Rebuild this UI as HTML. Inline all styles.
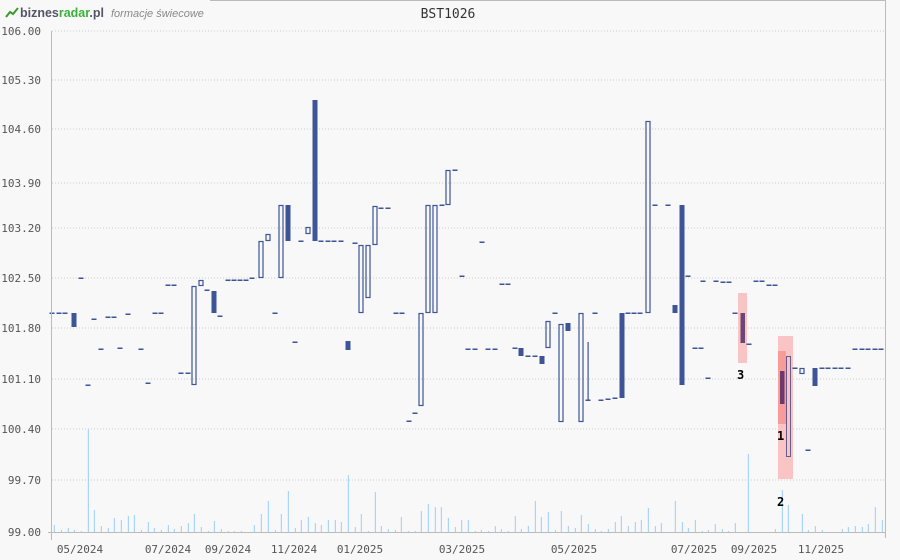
<!DOCTYPE html>
<html><head><meta charset="utf-8"><style>
html,body{margin:0;padding:0;background:#f8f8f8;}
svg{display:block;font-family:"DejaVu Sans Mono","Liberation Mono",monospace;}
</style></head><body>
<svg id="c" width="900" height="560" xmlns="http://www.w3.org/2000/svg">
<rect width="900" height="560" fill="#f8f8f8"/>
<line x1="210" y1="0.5" x2="886" y2="0.5" stroke="#bbb"/>
<line x1="885.5" y1="0" x2="885.5" y2="538" stroke="#bbb"/>
<g stroke="#ccc" stroke-dasharray="1,2">
<line x1="52" y1="31" x2="885" y2="31"/><line x1="52" y1="80" x2="885" y2="80"/>
<line x1="52" y1="129" x2="885" y2="129"/><line x1="52" y1="183" x2="885" y2="183"/>
<line x1="52" y1="228" x2="885" y2="228"/><line x1="52" y1="278" x2="885" y2="278"/>
<line x1="52" y1="328" x2="885" y2="328"/><line x1="52" y1="379" x2="885" y2="379"/>
<line x1="52" y1="429" x2="885" y2="429"/><line x1="52" y1="480" x2="885" y2="480"/>
</g>
<g id="vol" fill="#99ccff"></g>
<g>
<rect x="738" y="293" width="9" height="70" fill="#f9c4c4"/>
<rect x="778" y="336" width="15" height="143" fill="#f9c4c4"/>
<rect x="778" y="351" width="8" height="73" fill="#f79b9b"/>
</g>
<g id="cd"></g>
<rect x="780" y="371" width="4.5" height="33" fill="#6b3a6a"/>
<rect x="740.5" y="313" width="4.5" height="30" fill="#6b4575"/>
<rect x="786.5" y="356.5" width="4" height="100" fill="none" stroke="#6a5a8a"/>
<g font-family="'DejaVu Sans Mono',monospace" font-size="12" font-weight="bold" fill="#000">
<text x="737" y="379">3</text><text x="777" y="440">1</text><text x="777" y="506">2</text>
</g>
<line x1="51.5" y1="31" x2="51.5" y2="540" stroke="#bbb"/>
<line x1="48" y1="532.5" x2="885" y2="532.5" stroke="#bbb"/>
<g font-size="11" fill="#555" text-anchor="end">
<text x="41" y="35">106.00</text><text x="41" y="84">105.30</text><text x="41" y="133">104.60</text>
<text x="41" y="187">103.90</text><text x="41" y="232">103.20</text><text x="41" y="282">102.50</text>
<text x="41" y="332">101.80</text><text x="41" y="383">101.10</text><text x="41" y="433">100.40</text>
<text x="41" y="484">99.70</text><text x="41" y="536">99.00</text>
</g>
<g font-size="11" fill="#555" text-anchor="middle">
<text x="80" y="553">05/2024</text><text x="168" y="553">07/2024</text><text x="228" y="553">09/2024</text>
<text x="294" y="553">11/2024</text><text x="360" y="553">01/2025</text><text x="462" y="553">03/2025</text>
<text x="574" y="553">05/2025</text><text x="694" y="553">07/2025</text><text x="754" y="553">09/2025</text>
<text x="821" y="553">11/2025</text>
</g>
<text x="448" y="18" font-size="13" fill="#333" text-anchor="middle">BST1026</text>
<g>
<path d="M6 17 L10 12 L13 14 L18 8" stroke="#3a9a2a" stroke-width="2" fill="none"/>
<text x="20" y="17" font-family="'Liberation Sans',sans-serif" font-size="13" font-weight="bold" fill="#556" textLength="84" lengthAdjust="spacingAndGlyphs">biznes<tspan fill="#3bb03b">radar</tspan>.pl</text>
<text x="111" y="17" font-family="'Liberation Sans',sans-serif" font-size="11" font-style="italic" fill="#888">formacje świecowe</text>
</g>
</svg>
<script>
var ns="http://www.w3.org/2000/svg";
function el(p,t,a){var e=document.createElementNS(ns,t);for(var k in a)e.setAttribute(k,a[k]);p.appendChild(e);}
var v=document.getElementById("vol");
var z2=[[163,375],[184,390],[205,384],[223,390],[244,393],[265,88],[283,330],[304,378],[325,384],[343,354],[364,360],[385,348],[403,345],[424,390],[445,366],[463,384],[484,390],[505,375],[523,387],[544,378],[565,369],[583,342],[604,381],[625,393],[643,363],[664,387],[685,393],[703,393],[724,393],[763,375],[784,342],[805,303],[826,390],[844,342],[865,273],[886,384],[904,360],[925,351],[946,369],[964,375],[985,360],[1006,360],[1024,366],[1045,225],[1066,381],[1084,342],[1105,393],[1126,276],[1144,378],[1165,387],[1186,390],[1204,351],[1225,393],[1246,393],[1264,333],[1285,312],[1306,321],[1324,321],[1345,354]];
z2.forEach(function(b){var x=b[0]/3,y=400+b[1]/3;el(v,"rect",{x:x-0.5,y:y,width:1,height:532-y});});
var z3=[[16,741],[35,720],[55,720],[76,753],[94,750],[115,753],[136,738],[154,747],[175,753],[196,708],[214,747],[235,738],[256,663],[274,711],[295,696],[316,750],[334,693],[355,738],[376,744],[394,705],[415,732],[436,747],[454,753],[475,747],[496,726],[514,708],[535,738],[556,726],[574,720],[595,684],[616,738],[634,729],[676,663],[697,726],[715,744],[736,720],[757,753],[775,750],[796,732],[817,747],[835,753],[856,729],[895,522],[976,747],[997,630],[1015,675],[1057,702],[1075,750],[1096,738],[1117,750],[1177,747],[1195,741],[1216,738],[1237,741],[1255,732],[1276,681],[1297,720]];
z3.forEach(function(b){var x=450+b[0]/3,y=280+b[1]/3;el(v,"rect",{x:x-0.5,y:y,width:1,height:532-y});});
var C="#3d5597",g=document.getElementById("cd");
function d(x,y){el(g,"rect",{x:x-2.5,y:y-0.5,width:5,height:1.5,fill:C});}
function f(x,t,b){el(g,"rect",{x:x-2.5,y:t,width:5,height:b-t,fill:C});}
function o(x,t,b){el(g,"rect",{x:x-2,y:t+0.5,width:4,height:b-t-1,fill:"none",stroke:C,"stroke-width":1.2});}
[52,59,65].forEach(function(x){d(x,313);});
f(74,313,327);d(81,278);d(88,385);d(94,319);d(101,349);d(108,317);d(114,317);d(120,348);d(128,314);d(141,349);d(148,383);d(155,313);d(161,313);d(168,285);d(174,285);d(181,373);d(188,373);
o(194,286,385);o(201,280,286);d(207,290);f(214,291,313);d(220,316);
[228,234,240,246].forEach(function(x){d(x,280);});d(252,278);o(261,241,278);o(268,234,241);d(275,313);o(281,205,278);f(288,205,241);d(295,342);d(301,241);o(308,227,234);f(315,100,241);
[321,328,334,341].forEach(function(x){d(x,241);});f(348,341,350);d(355,243);o(361,245,313);o(368,245,298);o(375,206,245);d(381,208);d(388,208);d(396,313);d(402,313);d(409,421);d(415,413);
o(421,313,406);o(428,205,313);o(435,205,313);d(442,205);o(448,170,205);d(455,170);d(462,276);d(468,349);d(475,349);d(482,242);d(488,349);d(495,349);d(502,284);d(508,284);d(515,348);f(521,348,356);d(528,356);d(535,356);f(542,356,364);o(548,321,348);d(555,313);o(561,324,422);f(568,323,331);o(581,313,422);
el(g,"rect",{x:587.5,y:342,width:1.2,height:58,fill:C});d(588,400);d(595,313);d(601,400);d(608,399);d(615,398);f(622,313,398);d(628,313);d(634,313);d(640,313);o(648,121,313);d(655,205);d(668,205);f(675,305,313);f(682,205,385);d(688,276);d(695,348);d(701,348);d(708,378);
d(703,281);d(716,281);d(723,282);d(729,282);d(735,313);d(749,344);d(756,281);d(762,281);d(769,285);d(775,285);
d(795,368);o(802,368,374);d(808,450);f(815,368,386);
[822,828,835,841,848].forEach(function(x){d(x,368);});
[855,862,868,875,881].forEach(function(x){d(x,349);});
</script>
</body></html>
